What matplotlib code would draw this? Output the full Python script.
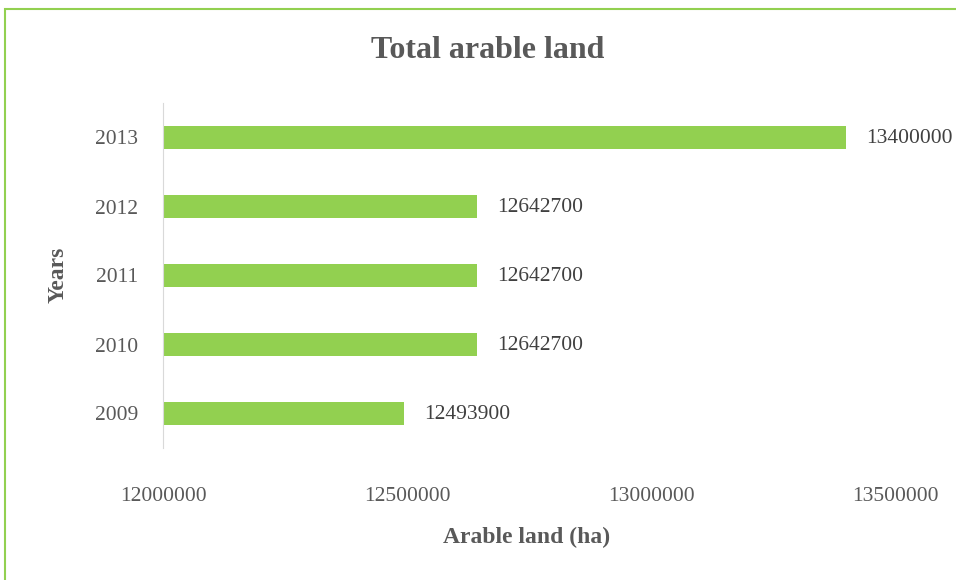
import matplotlib.pyplot as plt
from matplotlib.patches import Rectangle

years = ['2009', '2010', '2011', '2012', '2013']
arable_land = [12493900, 12642700, 12642700, 12642700, 13400000]
x_ticks = [12000000, 12500000, 13000000, 13500000]

bar_color = '#92D050'
text_color = '#595959'

plt.rcParams['font.family'] = ['Liberation Serif', 'DejaVu Serif']

fig = plt.figure(figsize=(9.56, 5.8), dpi=100)
W, H = 956, 580
ax = fig.add_axes([163 / W, 1 - 448 / H, (895 - 163) / W, (448 - 103) / H])

ypos = range(len(years))
ax.barh(ypos, [v - x_ticks[0] for v in arable_land], left=x_ticks[0],
        height=0.32, color=bar_color)

for y, v in zip(ypos, arable_land):
    ax.annotate(f'{v}', xy=(v, y), xytext=(14.5, -1), textcoords='offset points',
                ha='left', va='center', fontsize=15.5, color='#404040')

ax.set_xlim(x_ticks[0], x_ticks[-1])
ax.set_ylim(-0.5, len(years) - 0.5)
ax.set_yticks(list(ypos))
ax.set_yticklabels(years)
ax.set_xticks(x_ticks)
ax.set_xticklabels([str(t) for t in x_ticks])
ax.tick_params(axis='both', length=0, labelsize=15.5, labelcolor=text_color)
ax.tick_params(axis='x', pad=28)
ax.tick_params(axis='y', pad=18)

for s in ['top', 'right', 'bottom']:
    ax.spines[s].set_visible(False)
ax.spines['left'].set_color('#D9D9D9')

fig.text(488 / W, 1 - 50 / H, 'Total arable land', ha='center', va='center',
         fontsize=23, fontweight='bold', color=text_color)
fig.text(527 / W, 1 - 537 / H, 'Arable land (ha)', ha='center', va='center',
         fontsize=17, fontweight='bold', color=text_color)
fig.text(58 / W, 1 - 275 / H, 'Years', ha='center', va='center', rotation=90,
         fontsize=17, fontweight='bold', color=text_color)

fig.patches.append(Rectangle((5 / W, -0.1), 1.2, 1 - 9 / H + 0.1,
                             transform=fig.transFigure, fill=False,
                             edgecolor=bar_color, linewidth=1.5))

fig.savefig('out.png', dpi=100)
